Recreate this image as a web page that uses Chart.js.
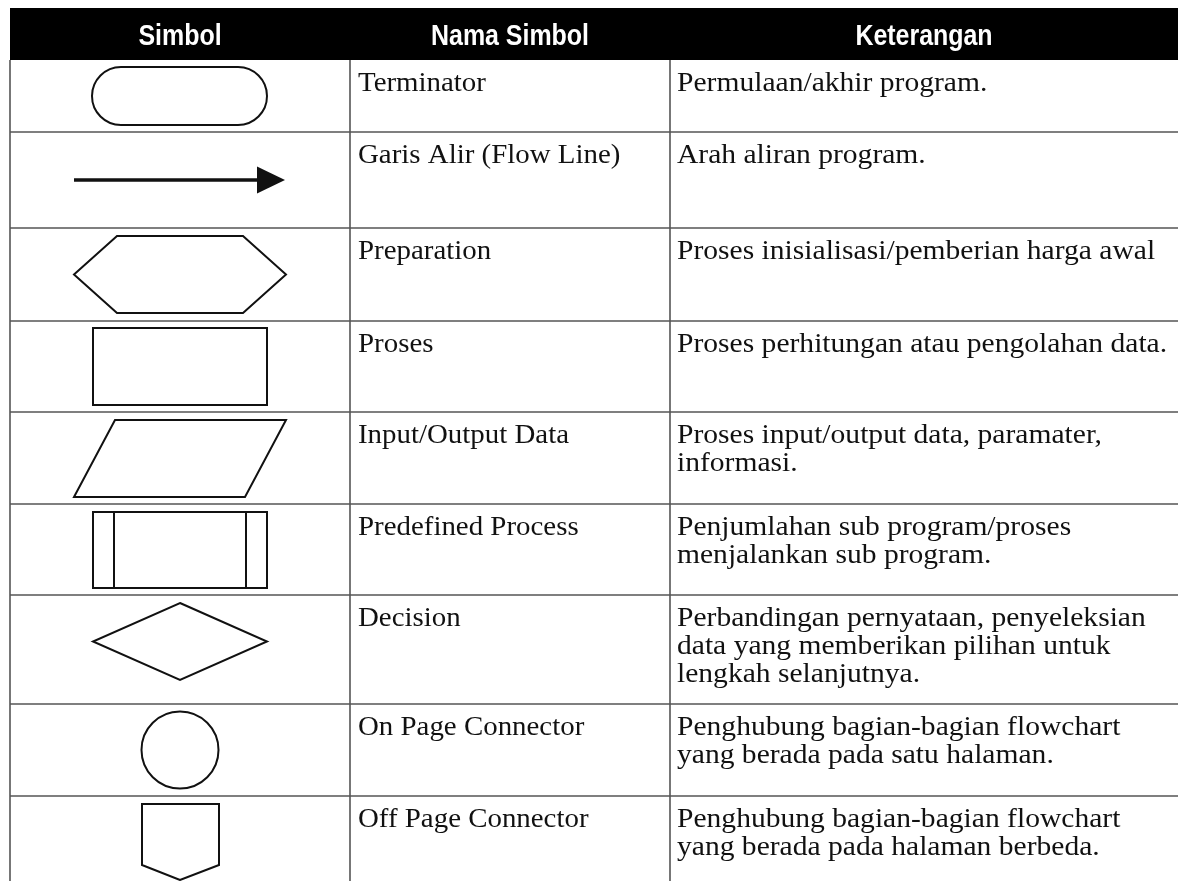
<!DOCTYPE html>
<html>
<head>
<meta charset="utf-8">
<script src="https://cdn.jsdelivr.net/npm/chart.js@4"></script>
<style>
  html, body { margin: 0; padding: 0; background: #fff; }
  #wrap { width: 1178px; height: 881px; }
</style>
</head>
<body>
<div id="wrap"><canvas id="flowTable"></canvas></div>
<script>
// table content
const headers = ['Simbol', 'Nama Simbol', 'Keterangan'];
const symbols = ['terminator', 'arrow', 'preparation', 'process', 'io', 'predefined', 'decision', 'onpage', 'offpage'];
const names = [
    'Terminator',
    'Garis Alir (Flow Line)',
    'Preparation',
    'Proses',
    'Input/Output Data',
    'Predefined Process',
    'Decision',
    'On Page Connector',
    'Off Page Connector'
];
const notes = [
    ['Permulaan/akhir program.'],
    ['Arah aliran program.'],
    ['Proses inisialisasi/pemberian harga awal'],
    ['Proses perhitungan atau pengolahan data.'],
    ['Proses input/output data, paramater,', 'informasi.'],
    ['Penjumlahan sub program/proses', 'menjalankan sub program.'],
    ['Perbandingan pernyataan, penyeleksian', 'data yang memberikan pilihan untuk', 'lengkah selanjutnya.'],
    ['Penghubung bagian-bagian flowchart', 'yang berada pada satu halaman.'],
    ['Penghubung bagian-bagian flowchart', 'yang berada pada halaman berbeda.']
];

// layout (in scale units, 1 unit = 1 px of the page)
const colEdges = [10, 350, 670, 1178];
const headTop = 8;
const rowEdges = [60, 132, 228, 321, 412, 504, 595, 704, 796, 881];
const symbolX = 180;

const serif = '"Liberation Serif", "Times New Roman", serif';
const narrow = '"Liberation Sans Narrow", "Liberation Sans", Arial, sans-serif';

function drawSymbol(ctx, kind, top, X, Y) {
    const cx = symbolX;
    ctx.beginPath();
    if (kind === 'terminator') {
        const l = 92, r = 267, t = top + 7, b = top + 65, rad = 29;
        ctx.moveTo(X(l + rad), Y(t));
        ctx.lineTo(X(r - rad), Y(t));
        ctx.arc(X(r - rad), Y(t + rad), rad, -Math.PI / 2, Math.PI / 2);
        ctx.lineTo(X(l + rad), Y(b));
        ctx.arc(X(l + rad), Y(t + rad), rad, Math.PI / 2, Math.PI * 1.5);
        ctx.closePath();
        ctx.stroke();
    } else if (kind === 'arrow') {
        const y = top + 48;
        ctx.lineWidth = 3.5;
        ctx.moveTo(X(74), Y(y));
        ctx.lineTo(X(260), Y(y));
        ctx.stroke();
        ctx.beginPath();
        ctx.moveTo(X(257), Y(y - 13.5));
        ctx.lineTo(X(285), Y(y));
        ctx.lineTo(X(257), Y(y + 13.5));
        ctx.closePath();
        ctx.fill();
        ctx.lineWidth = 2;
    } else if (kind === 'preparation') {
        const t = top + 8, b = top + 85, m = (t + b) / 2;
        ctx.moveTo(X(74), Y(m));
        ctx.lineTo(X(117), Y(t));
        ctx.lineTo(X(243), Y(t));
        ctx.lineTo(X(286), Y(m));
        ctx.lineTo(X(243), Y(b));
        ctx.lineTo(X(117), Y(b));
        ctx.closePath();
        ctx.stroke();
    } else if (kind === 'process') {
        ctx.rect(X(93), Y(top + 7), X(267) - X(93), Y(top + 84) - Y(top + 7));
        ctx.stroke();
    } else if (kind === 'io') {
        const t = top + 8, b = top + 85;
        ctx.moveTo(X(115), Y(t));
        ctx.lineTo(X(286), Y(t));
        ctx.lineTo(X(245), Y(b));
        ctx.lineTo(X(74), Y(b));
        ctx.closePath();
        ctx.stroke();
    } else if (kind === 'predefined') {
        const t = top + 8, b = top + 84;
        ctx.rect(X(93), Y(t), X(267) - X(93), Y(b) - Y(t));
        ctx.moveTo(X(114), Y(t));
        ctx.lineTo(X(114), Y(b));
        ctx.moveTo(X(246), Y(t));
        ctx.lineTo(X(246), Y(b));
        ctx.stroke();
    } else if (kind === 'decision') {
        const t = top + 8, b = top + 85, m = (t + b) / 2;
        ctx.moveTo(X(cx), Y(t));
        ctx.lineTo(X(267), Y(m));
        ctx.lineTo(X(cx), Y(b));
        ctx.lineTo(X(93), Y(m));
        ctx.closePath();
        ctx.stroke();
    } else if (kind === 'onpage') {
        ctx.arc(X(cx), Y(top + 46), X(cx + 38.5) - X(cx), 0, Math.PI * 2);
        ctx.stroke();
    } else if (kind === 'offpage') {
        const t = top + 8;
        ctx.moveTo(X(142), Y(t));
        ctx.lineTo(X(219), Y(t));
        ctx.lineTo(X(219), Y(t + 61));
        ctx.lineTo(X(cx), Y(t + 76));
        ctx.lineTo(X(142), Y(t + 61));
        ctx.closePath();
        ctx.stroke();
    }
}

// text squeezed/stretched horizontally to match the original typefaces
function drawText(ctx, text, x, y, sx) {
    ctx.save();
    ctx.translate(x, y);
    ctx.scale(sx, 1);
    ctx.fillText(text, 0, 0);
    ctx.restore();
}

const tablePlugin = {
    id: 'symbolTable',
    afterDraw(chart) {
        const ctx = chart.ctx;
        const xs = chart.scales.x, ys = chart.scales.y;
        const X = v => xs.getPixelForValue(v);
        const Y = v => ys.getPixelForValue(v);
        ctx.save();

        // header band
        ctx.fillStyle = '#000';
        ctx.fillRect(X(colEdges[0]), Y(headTop), X(colEdges[3]) - X(colEdges[0]), Y(rowEdges[0]) - Y(headTop));
        ctx.fillStyle = '#fff';
        ctx.font = 'bold 29px ' + narrow;
        ctx.textAlign = 'center';
        ctx.textBaseline = 'alphabetic';
        headers.forEach((h, i) => {
            drawText(ctx, h, X((colEdges[i] + colEdges[i + 1]) / 2), Y(45), 0.86);
        });

        // grid
        ctx.strokeStyle = '#555';
        ctx.lineWidth = 1.6;
        ctx.beginPath();
        rowEdges.slice(1, -1).forEach(r => {
            ctx.moveTo(X(colEdges[0]), Y(r));
            ctx.lineTo(X(colEdges[3]), Y(r));
        });
        colEdges.slice(0, 3).forEach(c => {
            ctx.moveTo(X(c), Y(rowEdges[0]));
            ctx.lineTo(X(c), Y(rowEdges[rowEdges.length - 1]));
        });
        ctx.stroke();

        // cells
        ctx.fillStyle = '#111';
        ctx.strokeStyle = '#111';
        ctx.lineWidth = 2;
        ctx.lineJoin = 'miter';
        ctx.textAlign = 'left';
        ctx.font = '27px ' + serif;
        symbols.forEach((kind, i) => {
            const top = rowEdges[i];
            drawSymbol(ctx, kind, top, X, Y);
            drawText(ctx, names[i], X(358), Y(top + 31), 1.07);
            notes[i].forEach((line, j) => {
                drawText(ctx, line, X(677), Y(top + 31 + j * 28), 1.095);
            });
        });
        ctx.restore();
    }
};

new Chart(document.getElementById('flowTable'), {
    type: 'scatter',
    data: { datasets: [{ data: [] }] },
    options: {
        responsive: true,
        maintainAspectRatio: false,
        animation: false,
        layout: { padding: 0 },
        scales: {
            x: { type: 'linear', min: 0, max: 1178, display: false },
            y: { type: 'linear', min: 0, max: 881, reverse: true, display: false }
        },
        plugins: {
            legend: { display: false },
            tooltip: { enabled: false }
        }
    },
    plugins: [tablePlugin]
});
</script>
</body>
</html>
